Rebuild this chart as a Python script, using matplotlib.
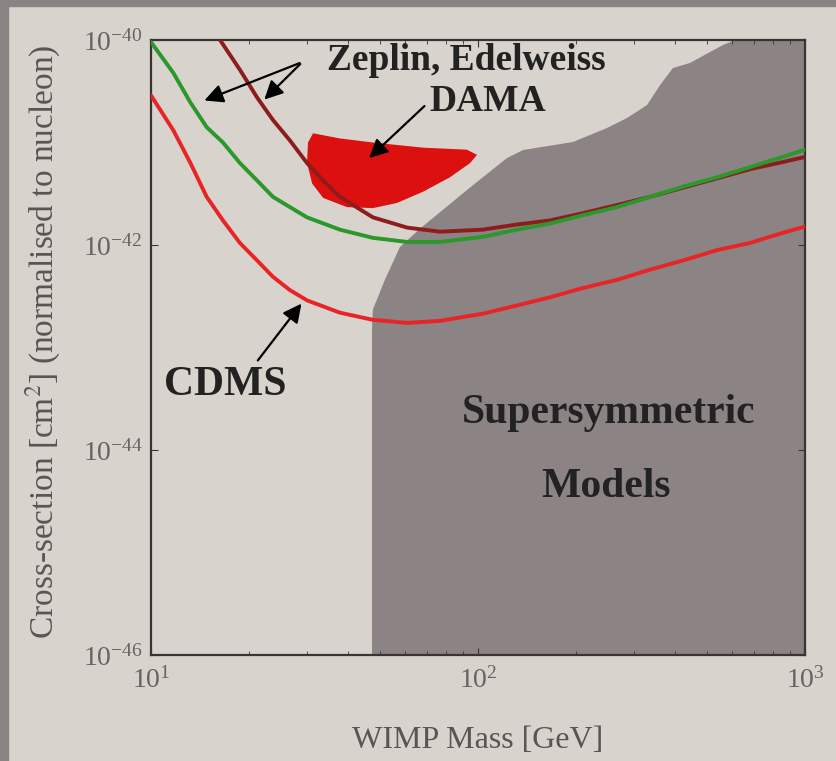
import numpy as np
import matplotlib
matplotlib.use('Agg')
import matplotlib.pyplot as plt
from matplotlib.patches import Rectangle

plt.rcParams['font.family'] = ['Liberation Serif', 'DejaVu Serif']
plt.rcParams['mathtext.fontset'] = 'stix'

# values (mass in GeV, cross-section as log10 of cm^2)
green_mass = [10, 11.7, 13.2, 14.8, 16.6, 18.7, 21.1, 23.6, 26.6, 30, 37.8, 47.7, 60.7,
              76.5, 103.5, 131.5, 166, 209, 266, 336, 424, 538, 679, 857, 1000]
green_logsig = [-40.02, -40.32, -40.61, -40.85, -41.00, -41.20, -41.37, -41.53, -41.63,
                -41.73, -41.85, -41.93, -41.97, -41.97, -41.92, -41.85, -41.79, -41.71,
                -41.63, -41.53, -41.43, -41.34, -41.24, -41.14, -41.07]

zeplin_mass = [15.5, 18.7, 21.1, 23.6, 26.6, 30, 33.6, 37.8, 47.7, 60.7, 76.5, 103.5,
               131.5, 166, 209, 266, 336, 424, 538, 679, 857, 1000]
zeplin_logsig = [-39.9, -40.29, -40.56, -40.78, -40.98, -41.20, -41.37, -41.53, -41.73,
                 -41.83, -41.87, -41.85, -41.80, -41.76, -41.69, -41.61, -41.53, -41.44,
                 -41.35, -41.26, -41.19, -41.14]

cdms_mass = [10, 11.7, 13.2, 14.8, 16.6, 18.7, 21.1, 23.6, 26.6, 30, 37.8, 47.7, 60.7,
             76.5, 103.5, 131.5, 166, 209, 266, 336, 424, 538, 679, 857, 1000]
cdms_logsig = [-40.54, -40.88, -41.20, -41.53, -41.76, -41.98, -42.15, -42.31, -42.44,
               -42.54, -42.66, -42.73, -42.76, -42.74, -42.67, -42.59, -42.51, -42.42,
               -42.34, -42.24, -42.15, -42.05, -41.98, -41.88, -41.82]

dama_mass = [31.3, 37.8, 47.7, 67.9, 92.5, 99.3, 94.6, 82.0, 67.9, 56.5, 47.7, 39.7,
             33.6, 31.1, 30.0, 30.2]
dama_logsig = [-40.91, -40.96, -41.00, -41.05, -41.07, -41.12, -41.20, -41.34, -41.48,
               -41.59, -41.64, -41.63, -41.54, -41.40, -41.20, -41.00]

susy_mass = [47.4, 47.4, 47.7, 51.9, 57.7, 66.5, 76.5, 96.6, 122.7, 137.4, 195.2, 247.7,
             285.5, 328.9, 360.5, 394.6, 444.6, 561, 611, 1000, 1000]
susy_logsig = [-46, -42.83, -42.63, -42.34, -42.02, -41.84, -41.68, -41.415, -41.151,
               -41.073, -40.995, -40.859, -40.761, -40.634, -40.439, -40.273, -40.224,
               -40.049, -40.0, -40.0, -46]

xticks = [10, 100, 1000]
xticklabels = [r'$\mathdefault{10^{1}}$', r'$\mathdefault{10^{2}}$', r'$\mathdefault{10^{3}}$']
yticks = [1e-46, 1e-44, 1e-42, 1e-40]
yticklabels = [r'$\mathdefault{10^{-46}}$', r'$\mathdefault{10^{-44}}$',
               r'$\mathdefault{10^{-42}}$', r'$\mathdefault{10^{-40}}$']

bg = '#d8d3cc'
fig = plt.figure(figsize=(8.37, 7.61), dpi=100, facecolor=bg)
# dark strips along the top and left edge of the slide photo
fig.patches.append(Rectangle((0, 0.992), 1, 0.008, transform=fig.transFigure,
                             color='#8a8484', zorder=0))
fig.patches.append(Rectangle((0, 0), 0.010, 1, transform=fig.transFigure,
                             color='#8a8484', zorder=0))

ax = fig.add_axes([0.1804, 0.1393, 0.7814, 0.8081])
ax.set_facecolor(bg)
ax.set_xscale('log')
ax.set_yscale('log')

ax.fill(susy_mass, 10 ** np.array(susy_logsig), color='#8b8384', lw=0, zorder=1)
ax.fill(dama_mass, 10 ** np.array(dama_logsig), color='#dd1010', lw=0, zorder=2)
line_kw = dict(lw=2.8, solid_joinstyle='round', solid_capstyle='round')
ax.plot(zeplin_mass, 10 ** np.array(zeplin_logsig), color='#8e1c1c', zorder=3, **line_kw)
ax.plot(green_mass, 10 ** np.array(green_logsig), color='#2a982a', zorder=4, **line_kw)
ax.plot(cdms_mass, 10 ** np.array(cdms_logsig), color='#e82426', zorder=4, **line_kw)

ax.set_xlim(10, 1000)
ax.set_ylim(1e-46, 1e-40)
ax.set_xticks(xticks)
ax.set_xticklabels(xticklabels)
ax.set_yticks(yticks)
ax.set_yticklabels(yticklabels)
ax.yaxis.set_minor_locator(matplotlib.ticker.NullLocator())
ax.tick_params(which='both', direction='in', top=True, right=True, color='#3a3333')
ax.tick_params(which='major', length=5, labelsize=20, labelcolor='#6a6262', pad=6)
ax.tick_params(axis='x', which='major', pad=9)
ax.tick_params(which='minor', length=3)
for s in ax.spines.values():
    s.set_color('#3a3333')
    s.set_linewidth(1.6)

ax.set_xlabel('WIMP Mass [GeV]', fontsize=23, color='#5a5454')
ax.xaxis.set_label_coords(0.5, -0.115)
ax.set_ylabel(r'Cross-section [cm$^{2}$] (normalised to nucleon)', fontsize=24,
              color='#5a5454')
ax.yaxis.set_label_coords(-0.135, 0.51)

arrow = dict(arrowstyle='-|>', color='black', lw=1.6, mutation_scale=28)
ax.text(92, 10 ** -40.2, 'Zeplin, Edelweiss', fontsize=27, fontweight='bold',
        color='#222222', ha='center', va='center', zorder=6)
ax.annotate('', xy=(14.3, 10 ** -40.6), xytext=(29, 10 ** -40.215),
            arrowprops=arrow, zorder=6)
ax.annotate('', xy=(21.9, 10 ** -40.6), xytext=(29, 10 ** -40.215),
            arrowprops=arrow, zorder=6)
ax.annotate('DAMA', xy=(45.8, 10 ** -41.17), xytext=(107, 10 ** -40.6),
            fontsize=27, fontweight='bold', color='#222222', ha='center', va='center',
            arrowprops=dict(arrow, relpos=(0, 0.5)), zorder=6)
ax.annotate('CDMS', xy=(29.2, 10 ** -42.55), xytext=(16.9, 10 ** -43.37),
            fontsize=30, fontweight='bold', color='#222222', ha='center', va='center',
            arrowprops=dict(arrow, relpos=(0.75, 1.1)), zorder=6)
ax.text(250, 10 ** -43.64, 'Supersymmetric', fontsize=30, fontweight='bold',
        color='#222222', ha='center', va='center', zorder=6)
ax.text(247, 10 ** -44.36, 'Models', fontsize=30, fontweight='bold',
        color='#222222', ha='center', va='center', zorder=6)

fig.savefig('out.png', dpi=100, facecolor=bg)
